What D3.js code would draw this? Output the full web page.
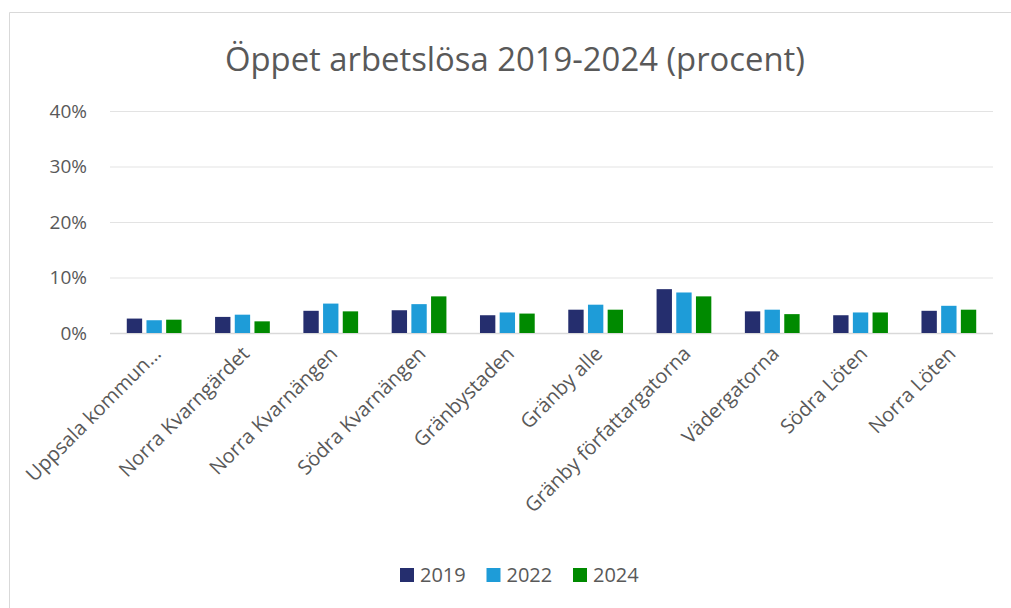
<!DOCTYPE html>
<html>
<head>
<meta charset="utf-8">
<script src="https://cdn.jsdelivr.net/npm/d3@7"></script>
<style>
  body { margin: 0; background: #fff; }
  text { font-family: "Open Sans", sans-serif; fill: #595959; }
</style>
</head>
<body>
<div id="chart"></div>
<script>
// areas along the x axis
var categories = ["Uppsala kommun…", "Norra Kvarngärdet", "Norra Kvarnängen", "Södra Kvarnängen",
    "Gränbystaden", "Gränby alle", "Gränby författargatorna", "Vädergatorna", "Södra Löten", "Norra Löten"];
var years = ["2019", "2022", "2024"];
// share of open unemployed, percent
var values2019 = [2.6, 2.9, 4.0, 4.1, 3.2, 4.2, 7.9, 3.9, 3.2, 4.0];
var values2022 = [2.3, 3.3, 5.3, 5.2, 3.7, 5.1, 7.3, 4.2, 3.7, 4.9];
var values2024 = [2.4, 2.1, 3.9, 6.6, 3.5, 4.2, 6.6, 3.4, 3.7, 4.2];
var yTicks = [0, 10, 20, 30, 40];
var colors = ["#252e6e", "#1e9cd8", "#008a00"];

var W = 1011, H = 608;
var margin = {left: 110, right: 18, top: 111, bottom: 275};

var svg = d3.select("#chart").append("svg").attr("width", W).attr("height", H);

// outer frame (only left/top visible in the crop)
svg.append("path")
    .attr("d", "M9.5," + H + "V12.5H" + W)
    .attr("fill", "none").attr("stroke", "#d9d9d9").attr("stroke-width", 1);

svg.append("text")
    .attr("x", 515).attr("y", 71)
    .attr("text-anchor", "middle")
    .style("font-size", "33px")
    .attr("textLength", 580).attr("lengthAdjust", "spacingAndGlyphs")
    .text("Öppet arbetslösa 2019-2024 (procent)");

var width = W - margin.left - margin.right;
var height = H - margin.top - margin.bottom;
var g = svg.append("g").attr("transform", "translate(" + margin.left + "," + margin.top + ")");

var y = d3.scaleLinear().domain([0, 40]).range([height, 0]);
var x = d3.scaleBand().domain(categories).range([0, width]).paddingInner(0.38).paddingOuter(0.19);
var xs = d3.scaleBand().domain(years).range([0, x.bandwidth()]).paddingInner(0.22);

var yAxis = g.append("g").call(d3.axisLeft(y).tickValues(yTicks).tickSize(-width).tickFormat(function(d) { return d + "%"; }));
yAxis.select(".domain").remove();
yAxis.selectAll(".tick line").attr("stroke", function(d) { return d === 0 ? "#d9d9d9" : "#e3e3e3"; }).attr("stroke-width", function(d) { return d === 0 ? 1.5 : 1; });
yAxis.selectAll(".tick text").attr("x", -23).style("font-size", "19px");

var series = [values2019, values2022, values2024];
var groups = g.selectAll(".grp")
    .data(categories)
    .enter().append("g")
        .attr("class", "grp")
        .attr("transform", function(d) { return "translate(" + x(d) + ",0)"; });

groups.selectAll("rect")
    .data(function(d, i) { return series.map(function(s, k) { return {year: years[k], v: s[i], k: k}; }); })
    .enter().append("rect")
        .attr("x", function(d) { return xs(d.year); })
        .attr("y", function(d) { return y(d.v); })
        .attr("width", xs.bandwidth())
        .attr("height", function(d) { return height - y(d.v); })
        .style("fill", function(d) { return colors[d.k]; });

g.selectAll(".xlab")
    .data(categories)
    .enter().append("text")
        .attr("class", "xlab")
        .attr("text-anchor", "end")
        .style("font-size", "20px")
        .attr("transform", function(d) {
            return "translate(" + (x(d) + x.bandwidth() / 2 + 8) + "," + (height + 22) + ") rotate(-45)";
        })
        .text(function(d) { return d; });

var legend = svg.append("g").attr("transform", "translate(400,575)");
var item = legend.selectAll("g").data(years).enter().append("g")
    .attr("transform", function(d, i) { return "translate(" + (i * 86.5) + ",0)"; });
item.append("rect").attr("x", 0).attr("y", -7).attr("width", 14).attr("height", 14)
    .style("fill", function(d, i) { return colors[i]; });
item.append("text").attr("x", 20).attr("y", 7).style("font-size", "20px").text(function(d) { return d; });
</script>
</body>
</html>
